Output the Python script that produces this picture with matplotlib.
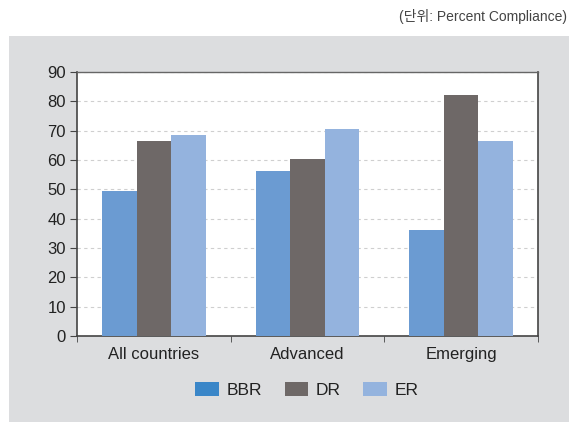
import numpy as np
import matplotlib
matplotlib.use("Agg")
import matplotlib.pyplot as plt
from matplotlib.patches import Patch, Rectangle

plt.rcParams['font.family'] = ['Liberation Sans', 'Noto Sans CJK KR']

categories = ["All countries", "Advanced", "Emerging"]
series = ["BBR", "DR", "ER"]
bbr = [49.3, 56.4, 36.3]
dr = [66.6, 60.5, 82.2]
er = [68.6, 70.7, 66.6]
yticks = [0, 10, 20, 30, 40, 50, 60, 70, 80, 90]

bar_colors = ["#6b9bd2", "#6e6867", "#94b3de"]
legend_colors = ["#3a86c8", "#6e6867", "#94b3de"]

W, H = 578, 422
fig = plt.figure(figsize=(W / 100, H / 100), dpi=100)
fig.patch.set_facecolor("white")

# grey panel behind the chart
fig.patches.append(Rectangle((9 / W, 0), 560 / W, (H - 36) / H,
                             transform=fig.transFigure, facecolor="#dcdddf",
                             edgecolor="none", zorder=-5))

ax = fig.add_axes([77 / W, 1 - 336 / H, (538 - 77) / W, (336 - 72) / H])
ax.set_facecolor("white")

x = np.arange(len(categories)) + 0.5
w = 0.225
for i, vals in enumerate([bbr, dr, er]):
    ax.bar(x + (i - 1) * w, vals, width=w, color=bar_colors[i], zorder=3)

ax.set_xlim(0, 3)
ax.set_ylim(0, 90)
ax.set_yticks(yticks)
ax.set_yticklabels([str(t) for t in yticks], fontsize=12, color="#222222")
ax.set_xticks(x)
ax.set_xticklabels(categories, fontsize=12, color="#222222")
ax.set_xticks([0, 1, 2, 3], minor=True)
ax.tick_params(axis="x", which="major", length=0, pad=8)
ax.tick_params(axis="x", which="minor", length=4, color="#444444", direction="out")
ax.tick_params(axis="y", length=5, color="#444444", direction="out", pad=3)

ax.grid(axis="y", color="#cfcfcf", linestyle=(0, (3, 3)), linewidth=0.8, zorder=0)
for s in ["left", "bottom", "right"]:
    ax.spines[s].set_color("#444444")
    ax.spines[s].set_linewidth(1.2)
ax.spines["top"].set_color("#666666")
ax.spines["top"].set_linewidth(1.0)

handles = [Patch(facecolor=c, edgecolor="none") for c in legend_colors]
fig.legend(handles, series, loc="center", bbox_to_anchor=(307 / W, 1 - 390 / H),
           ncol=3, frameon=False, fontsize=12.5, handlelength=1.35, handleheight=0.9,
           columnspacing=1.3, handletextpad=0.45, labelcolor="#222222")

fig.text(567 / W, 1 - 16 / H, "(단위: Percent Compliance)", ha="right", va="center",
         fontsize=10, color="#444444")

fig.savefig("out.png", dpi=100)
